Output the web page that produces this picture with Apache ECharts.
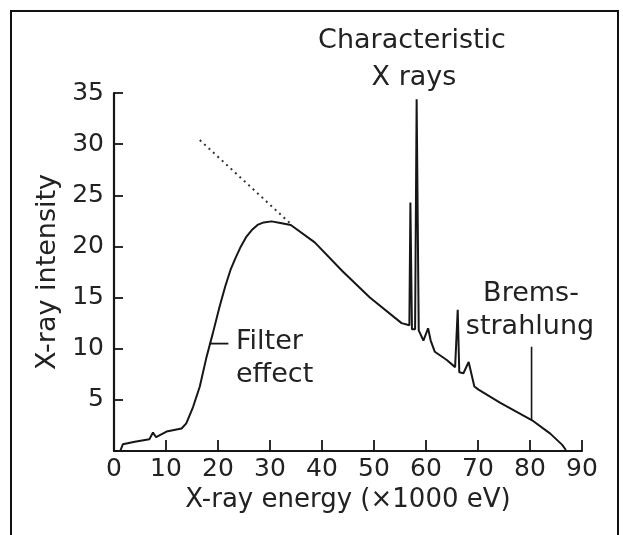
<!DOCTYPE html>
<html>
<head>
<meta charset="utf-8">
<script src="https://cdn.jsdelivr.net/npm/echarts@6/dist/echarts.min.js"></script>
<style>
  html, body { margin: 0; padding: 0; background: #fff; }
  #chart { width: 623px; height: 535px; }
</style>
</head>
<body>
<div id="chart"></div>
<script>
// Spectrum of an X-ray tube: energy (keV) vs. intensity (arb. units)
const energy = [1.2, 1.7, 4.0, 6.8, 7.5, 8.1, 10.1, 13.0, 13.9, 15.2, 16.5, 17.8, 19.0, 20.3, 21.4, 22.4, 23.4, 24.4, 25.4, 26.5, 27.6, 28.8, 30.3, 32.0, 34.0, 38.6, 43.9, 49.2, 55.3, 56.8, 57.0, 57.3, 57.9, 58.2, 58.6, 59.5, 60.4, 60.9, 61.7, 64.0, 65.6, 66.1, 66.4, 67.2, 68.2, 69.3, 70.1, 74.3, 80.4, 83.9, 86.2, 86.9];
const intensity = [0.0, 0.65, 0.9, 1.15, 1.8, 1.35, 1.9, 2.2, 2.7, 4.3, 6.3, 9.2, 11.5, 14.1, 16.1, 17.7, 18.9, 20.0, 20.9, 21.6, 22.1, 22.35, 22.45, 22.3, 22.1, 20.4, 17.6, 15.0, 12.5, 12.3, 24.3, 11.9, 11.9, 34.4, 11.8, 10.8, 12.0, 10.8, 9.7, 8.9, 8.2, 13.8, 7.7, 7.6, 8.7, 6.3, 6.0, 4.7, 3.0, 1.7, 0.6, 0.1];

// Extrapolated unfiltered continuum (dotted)
const extrapEnergy = [16.5, 34.0];
const extrapIntensity = [30.4, 22.2];

// Leader lines for the annotations
const filterLeaderEnergy = [18.3, 22.0];
const filterLeaderIntensity = [10.5, 10.5];
const bremsLeaderEnergy = [80.3, 80.3];
const bremsLeaderIntensity = [3.0, 10.2];

const xTicks = [0, 10, 20, 30, 40, 50, 60, 70, 80, 90];
const yTicks = [0, 5, 10, 15, 20, 25, 30, 35];

const ink = '#161616';
const textInk = '#222';
const font = 'DejaVu Sans';

const pairs = (xs, ys) => xs.map((x, i) => [x, ys[i]]);

const chart = echarts.init(document.getElementById('chart'));
chart.setOption({
  backgroundColor: '#fff',
  animation: false,
  grid: { left: 114, right: 41, top: 93, bottom: 84 },
  xAxis: {
    type: 'value',
    min: xTicks[0], max: xTicks[xTicks.length - 1], interval: 10,
    name: 'X-ray energy (\u00d71000 eV)',
    nameLocation: 'middle', nameGap: 31,
    nameTextStyle: { fontFamily: font, fontSize: 26, color: textInk },
    axisLine: { lineStyle: { color: ink, width: 2.2 } },
    axisTick: { inside: true, length: 11, lineStyle: { color: ink, width: 1.8 } },
    axisLabel: { fontFamily: font, fontSize: 25, color: textInk, margin: 6 },
    splitLine: { show: false }
  },
  yAxis: {
    type: 'value',
    min: yTicks[0], max: yTicks[yTicks.length - 1], interval: 5,
    name: 'X-ray intensity',
    nameLocation: 'middle', nameGap: 52, nameRotate: 90,
    nameTextStyle: { fontFamily: font, fontSize: 27, color: textInk },
    axisLine: { lineStyle: { color: ink, width: 2.2 } },
    axisTick: { inside: true, length: 9, lineStyle: { color: ink, width: 1.8 } },
    axisLabel: {
      fontFamily: font, fontSize: 25, color: textInk, margin: 10,
      formatter: v => (v === 0 ? '' : String(v))
    },
    splitLine: { show: false }
  },
  series: [
    {
      type: 'line', data: pairs(energy, intensity), showSymbol: false,
      lineStyle: { color: ink, width: 2 }, z: 3
    },
    {
      type: 'line', data: pairs(extrapEnergy, extrapIntensity), showSymbol: false,
      lineStyle: { color: '#333', width: 2, type: [2, 4] }
    },
    {
      type: 'line', data: pairs(filterLeaderEnergy, filterLeaderIntensity), showSymbol: false,
      lineStyle: { color: ink, width: 1.8 }
    },
    {
      type: 'line', data: pairs(bremsLeaderEnergy, bremsLeaderIntensity), showSymbol: false,
      lineStyle: { color: ink, width: 1.6 }
    }
  ],
  graphic: [
    {
      type: 'rect', shape: { x: 11, y: 11, width: 607, height: 560 },
      style: { fill: null, stroke: '#111', lineWidth: 2 }, silent: true
    },
    { type: 'text', x: 412, y: 41, style: { text: 'Characteristic', font: '27px "DejaVu Sans"', fill: textInk, textAlign: 'center', textVerticalAlign: 'middle' } },
    { type: 'text', x: 414, y: 78, style: { text: 'X rays', font: '27px "DejaVu Sans"', fill: textInk, textAlign: 'center', textVerticalAlign: 'middle' } },
    { type: 'text', x: 531, y: 294, style: { text: 'Brems-', font: '27px "DejaVu Sans"', fill: textInk, textAlign: 'center', textVerticalAlign: 'middle' } },
    { type: 'text', x: 530, y: 327, style: { text: 'strahlung', font: '27px "DejaVu Sans"', fill: textInk, textAlign: 'center', textVerticalAlign: 'middle' } },
    { type: 'text', x: 236, y: 342, style: { text: 'Filter', font: '27px "DejaVu Sans"', fill: textInk, textAlign: 'left', textVerticalAlign: 'middle' } },
    { type: 'text', x: 236, y: 375, style: { text: 'effect', font: '27px "DejaVu Sans"', fill: textInk, textAlign: 'left', textVerticalAlign: 'middle' } }
  ]
});
</script>
</body>
</html>
